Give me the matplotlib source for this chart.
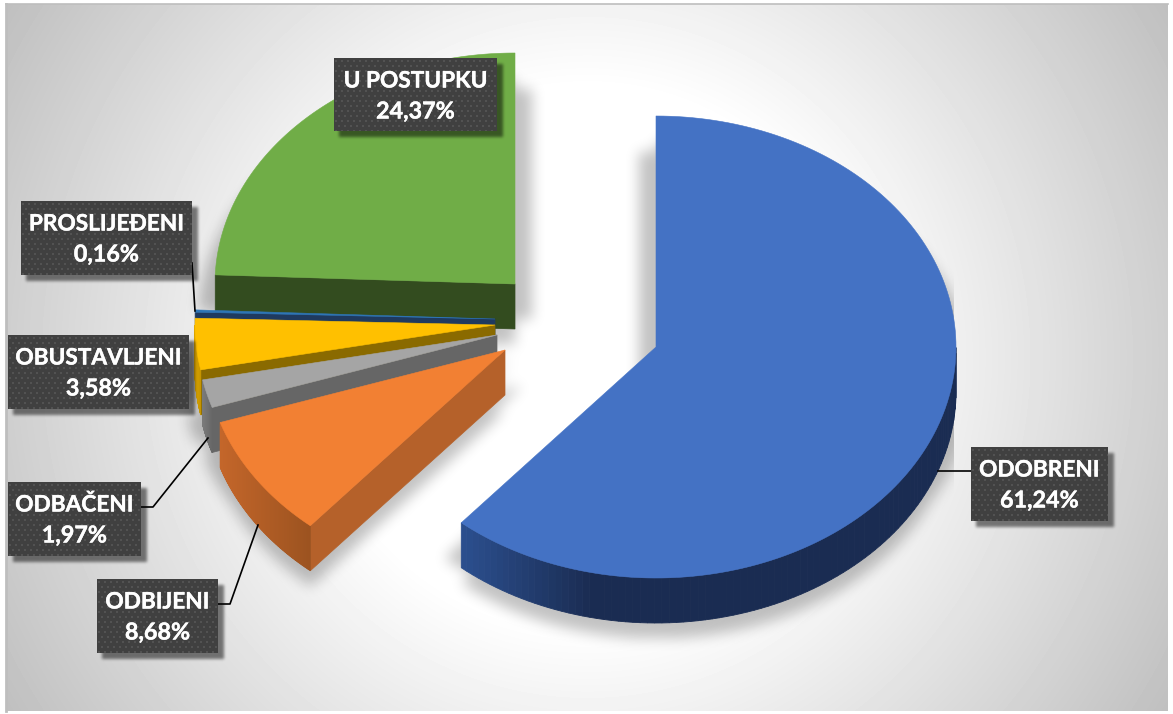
import numpy as np
import matplotlib
matplotlib.use("Agg")
import matplotlib.pyplot as plt
import matplotlib.patheffects as pe
from matplotlib.patches import Polygon, Rectangle
from matplotlib.path import Path

names = ["ODOBRENI", "ODBIJENI", "ODBAČENI", "OBUSTAVLJENI", "PROSLIJEĐENI", "U POSTUPKU"]
values = [61.24, 8.68, 1.97, 3.58, 0.16, 24.37]

top_colors = ["#4472C4", "#F28033", "#A5A5A5", "#FFC000", "#2E75B6", "#70AD47"]
cut_colors = [None, "#B5612A", "#666666", "#8A6A00", "#1F3A5F", "#334C1F"]
wall_start = ["#2C5090", "#C4662A", "#7A7A7A", "#D9A300", "#1F3A5F", "#334C1F"]
wall_end = ["#1A2C52", "#9C5320", "#666666", "#C49400", "#1F3A5F", "#334C1F"]
wall_reach = [0.27, 1, 1, 1, 1, 1]

# slice apex in pixels (pie was pulled apart by hand in the original)
apex_x = [656, 505, 497, 495, 495, 515]
apex_y = [347, 350, 335, 325, 319, 284]
RX, RY, DEPTH = 300, 231, 45

# label boxes: left, top, right, bottom
boxes = [(971, 447, 1108, 521), (97, 579, 218, 653), (8, 482, 141, 556),
         (8, 335, 189, 409), (21, 201, 192, 275), (334, 58, 497, 131)]
leaders = [([938, 971], [471, 471]),
           ([218, 230, 258], [604, 604, 525]),
           ([141, 153, 208], [507, 507, 438]),
           None,
           ([192, 195], [263, 311]),
           None]

W, H = 1173, 714


def blur(a, size, passes=3):
    # repeated box blur, no scipy here
    kernel = np.ones(size) / size
    for _ in range(passes):
        a = np.apply_along_axis(lambda m: np.convolve(m, kernel, mode="same"), 0, a)
        a = np.apply_along_axis(lambda m: np.convolve(m, kernel, mode="same"), 1, a)
    return a


def rim(cx, cy, a):
    # a is clockwise from 12 o'clock, in degrees
    t = np.radians(a)
    return cx + RX * np.sin(t), cy - RY * np.cos(t)


def mix(c1, c2, f):
    c1 = np.array(matplotlib.colors.to_rgb(c1))
    c2 = np.array(matplotlib.colors.to_rgb(c2))
    return tuple(c1 + (c2 - c1) * f)


def raster_mask(polys):
    xx, yy = np.meshgrid(np.arange(W), np.arange(H))
    pts = np.column_stack([xx.ravel(), yy.ravel()])
    mask = np.zeros(H * W, dtype=bool)
    for p in polys:
        mask |= Path(p).contains_points(pts)
    return mask.reshape(H, W).astype(float)


fig = plt.figure(figsize=(W / 100, H / 100), dpi=100)
ax = fig.add_axes([0, 0, 1, 1])

# background
xx, yy = np.meshgrid(np.arange(W), np.arange(H))
d = np.hypot(xx - 587, yy - 357)
bg = 1 - 0.25 * np.clip((d - 270) / 410, 0, 1)
ax.imshow(bg, cmap="gray", vmin=0, vmax=1, extent=(0, W, H, 0), zorder=0, aspect="auto")
ax.add_patch(Rectangle((0, 0), W, 4, fc="white", ec="none", zorder=1))
ax.add_patch(Rectangle((0, 711), W, 3, fc="white", ec="none", zorder=1))
ax.add_patch(Rectangle((0, 0), 6, H, fc="white", ec="none", zorder=1))
ax.add_patch(Rectangle((1168, 0), 5, H, fc="white", ec="none", zorder=1))
ax.plot([6, 6], [4, 711], color="#BEBEBE", lw=2, zorder=1)
ax.plot([6, 1168], [4, 4], color="#BEBEBE", lw=1.2, zorder=1)

# slice angles
ends = np.cumsum(values) / np.sum(values) * 360
starts = np.concatenate([[0], ends[:-1]])

# soft shadow, dropped below the pie and a bit wider
outlines = []
for i in range(len(values)):
    a = np.linspace(starts[i], ends[i], 90)
    x, y = rim(apex_x[i], apex_y[i], a)
    top = np.column_stack([np.r_[apex_x[i], x], np.r_[apex_y[i], y]])
    for dx, dy in [(0, 25), (0, 40), (0, 60), (-17, 35), (17, 35)]:
        outlines.append(top + [dx, dy])

shadow = blur(raster_mask(outlines), 13)
rgba = np.zeros((H, W, 4))
rgba[..., 3] = shadow * 0.24
# the original shadow is cut off by a box around the pie
rgba[:, :173, 3] = 0
rgba[:, 954:, 3] = 0
ax.imshow(rgba, extent=(0, W, H, 0), zorder=2, aspect="auto")

# slices, back to front
z = 3
for i in [5, 4, 3, 2, 1, 0]:
    cx, cy = apex_x[i], apex_y[i]
    a = np.linspace(starts[i], ends[i], 160)
    x, y = rim(cx, cy, a)

    # cut face of the start edge, faces the viewer on the left half
    if cut_colors[i] is not None:
        sx, sy = rim(cx, cy, starts[i])
        quad = [(cx, cy), (sx, sy), (sx, sy + DEPTH), (cx, cy + DEPTH)]
        ax.add_patch(Polygon(quad, fc=cut_colors[i], ec=cut_colors[i], lw=0.5, zorder=z))
    z += 1

    # outer wall, split up so colour can run along the arc
    front = np.where((a > 90) & (a < 270))[0]
    if len(front) > 1:
        left, right = x[front].min(), x[front].max()
        span = max((right - left) * wall_reach[i], 1)
        for j, j2 in zip(front[:-1], front[1:]):
            f = np.clip((x[j] - left) / span, 0, 1)
            color = mix(wall_start[i], wall_end[i], f)
            quad = [(x[j], y[j]), (x[j2], y[j2]), (x[j2], y[j2] + DEPTH), (x[j], y[j] + DEPTH)]
            ax.add_patch(Polygon(quad, fc=color, ec=color, lw=0.6, zorder=z))
    z += 1

    ax.add_patch(Polygon(np.column_stack([np.r_[cx, x], np.r_[cy, y]]),
                         fc=top_colors[i], ec=top_colors[i], lw=0.4, zorder=z))
    z += 1

# label shadows
box_polys = [[(l, t), (r, t), (r, b), (l, b)] for l, t, r, b in boxes]
label_shadow = blur(np.roll(raster_mask(box_polys), (5, 5), axis=(0, 1)), 3)
rgba2 = np.zeros((H, W, 4))
rgba2[..., 3] = label_shadow * 0.5
ax.imshow(rgba2, extent=(0, W, H, 0), zorder=50, aspect="auto")

# labels
heavy = [pe.withStroke(linewidth=0.3, foreground="white")]
for i in range(len(values)):
    l, t, r, b = boxes[i]
    w, h = r - l, b - t
    cell = np.zeros((h, w, 3)) + 0x40 / 255
    for row in range(2, h, 5):
        shift = 3 if (row // 5) % 2 else 0
        cell[row:row + 2, (shift + 1) % 6::6] = 0x52 / 255
        cell[row:row + 2, (shift + 2) % 6::6] = 0x52 / 255
    ax.imshow(cell, extent=(l, r, b, t), zorder=60, aspect="auto", interpolation="bilinear")
    ax.text((l + r) / 2, t + 23, names[i], color="white", fontsize=16.3, fontweight="bold",
            family="Lato", ha="center", va="center", zorder=61, path_effects=heavy)
    pct = f"{values[i]:.2f}".replace(".", ",") + "%"
    ax.text((l + r) / 2, t + 54, pct, color="white", fontsize=16.8, fontweight="bold",
            family="Lato", ha="center", va="center", zorder=61, path_effects=heavy)
    if leaders[i] is not None:
        ax.plot(leaders[i][0], leaders[i][1], color="black", lw=1.2, zorder=55)

ax.set_xlim(0, W)
ax.set_ylim(H, 0)
ax.axis("off")
fig.savefig("out.png", dpi=100, facecolor="white")
